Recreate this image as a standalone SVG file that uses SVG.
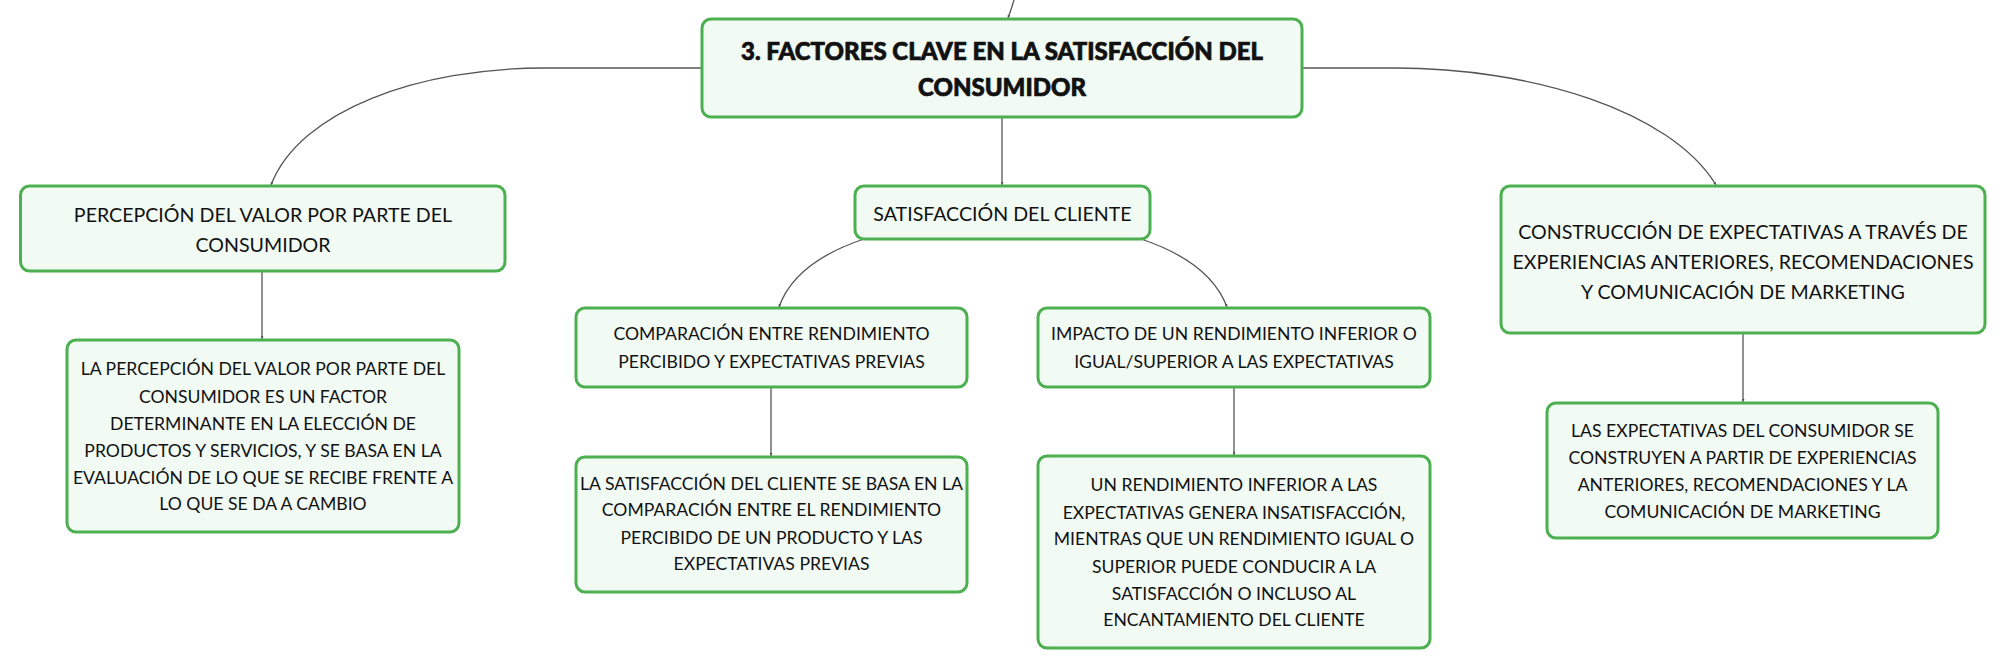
<svg xmlns="http://www.w3.org/2000/svg" width="2006" height="668" viewBox="0 0 2006 668">
<defs>
<style>
.node{fill:#f2faf4;stroke:#4caf50;stroke-width:3}
.t{font-family:Lato,"Noto Sans",sans-serif;fill:#111;text-anchor:middle;dominant-baseline:central}
.t0{font-size:24px;font-weight:900;stroke:#111;stroke-width:0.7}
.t1{font-size:19.6px}
.t2{font-size:17.6px}
.c{fill:none;stroke:#555;stroke-width:1.3}
</style>
<marker id="a" viewBox="0 0 4 4" refX="4" refY="2" markerWidth="3" markerHeight="3" orient="auto" markerUnits="userSpaceOnUse"><path d="M0,0L4,2L0,4z" fill="#555"/></marker>
</defs>
<rect width="2006" height="668" fill="#fff"/>
<g id="connectors">
<path class="c" d="M1014,0 Q1011,10 1008,18" marker-end="url(#a)"/>
<path class="c" d="M702,68 H544 C420,68 300,110 271,185" marker-end="url(#a)"/>
<path class="c" d="M1302,68 H1395 C1530,68 1670,110 1716,185" marker-end="url(#a)"/>
<path class="c" d="M1002,117 V185" marker-end="url(#a)"/>
<path class="c" d="M864,239 Q795,262 779,307" marker-end="url(#a)"/>
<path class="c" d="M1141,239 Q1210,262 1227,307" marker-end="url(#a)"/>
<path class="c" d="M262,271 V339" marker-end="url(#a)"/>
<path class="c" d="M771,387 V456" marker-end="url(#a)"/>
<path class="c" d="M1234,387 V455" marker-end="url(#a)"/>
<path class="c" d="M1743,333 V402" marker-end="url(#a)"/>
</g>
<g id="n0">
<rect class="node" x="702" y="19" width="600" height="98" rx="9"/>
<text class="t t0" x="1002" y="50">3. FACTORES CLAVE EN LA SATISFACCIÓN DEL</text>
<text class="t t0" x="1002" y="86">CONSUMIDOR</text>
</g>
<g id="n1">
<rect class="node" x="20.5" y="186" width="484.5" height="85" rx="9"/>
<text class="t t1" x="263" y="214">PERCEPCIÓN DEL VALOR POR PARTE DEL</text>
<text class="t t1" x="263" y="244">CONSUMIDOR</text>
</g>
<g id="n2">
<rect class="node" x="855" y="186" width="295" height="53" rx="9"/>
<text class="t t1" x="1002.5" y="213">SATISFACCIÓN DEL CLIENTE</text>
</g>
<g id="n3">
<rect class="node" x="1501" y="186" width="484" height="147" rx="9"/>
<text class="t t1" x="1743" y="231">CONSTRUCCIÓN DE EXPECTATIVAS A TRAVÉS DE</text>
<text class="t t1" x="1743" y="261">EXPERIENCIAS ANTERIORES, RECOMENDACIONES</text>
<text class="t t1" x="1743" y="291">Y COMUNICACIÓN DE MARKETING</text>
</g>
<g id="n4">
<rect class="node" x="67" y="340" width="392" height="192" rx="9"/>
<text class="t t2" x="263" y="368">LA PERCEPCIÓN DEL VALOR POR PARTE DEL</text>
<text class="t t2" x="263" y="396">CONSUMIDOR ES UN FACTOR</text>
<text class="t t2" x="263" y="423">DETERMINANTE EN LA ELECCIÓN DE</text>
<text class="t t2" x="263" y="450">PRODUCTOS Y SERVICIOS, Y SE BASA EN LA</text>
<text class="t t2" x="263" y="477">EVALUACIÓN DE LO QUE SE RECIBE FRENTE A</text>
<text class="t t2" x="263" y="503">LO QUE SE DA A CAMBIO</text>
</g>
<g id="n5">
<rect class="node" x="576" y="308" width="391" height="79" rx="9"/>
<text class="t t2" x="771.5" y="333">COMPARACIÓN ENTRE RENDIMIENTO</text>
<text class="t t2" x="771.5" y="361">PERCIBIDO Y EXPECTATIVAS PREVIAS</text>
</g>
<g id="n6">
<rect class="node" x="576" y="457" width="391" height="135" rx="9"/>
<text class="t t2" x="771.5" y="483">LA SATISFACCIÓN DEL CLIENTE SE BASA EN LA</text>
<text class="t t2" x="771.5" y="509">COMPARACIÓN ENTRE EL RENDIMIENTO</text>
<text class="t t2" x="771.5" y="537">PERCIBIDO DE UN PRODUCTO Y LAS</text>
<text class="t t2" x="771.5" y="563">EXPECTATIVAS PREVIAS</text>
</g>
<g id="n7">
<rect class="node" x="1038" y="308" width="392" height="79" rx="9"/>
<text class="t t2" x="1234" y="333">IMPACTO DE UN RENDIMIENTO INFERIOR O</text>
<text class="t t2" x="1234" y="361">IGUAL/SUPERIOR A LAS EXPECTATIVAS</text>
</g>
<g id="n8">
<rect class="node" x="1038" y="456" width="392" height="192" rx="9"/>
<text class="t t2" x="1234" y="484">UN RENDIMIENTO INFERIOR A LAS</text>
<text class="t t2" x="1234" y="512">EXPECTATIVAS GENERA INSATISFACCIÓN,</text>
<text class="t t2" x="1234" y="538">MIENTRAS QUE UN RENDIMIENTO IGUAL O</text>
<text class="t t2" x="1234" y="566">SUPERIOR PUEDE CONDUCIR A LA</text>
<text class="t t2" x="1234" y="593">SATISFACCIÓN O INCLUSO AL</text>
<text class="t t2" x="1234" y="619">ENCANTAMIENTO DEL CLIENTE</text>
</g>
<g id="n9">
<rect class="node" x="1547" y="403" width="391" height="135" rx="9"/>
<text class="t t2" x="1742.5" y="430">LAS EXPECTATIVAS DEL CONSUMIDOR SE</text>
<text class="t t2" x="1742.5" y="457">CONSTRUYEN A PARTIR DE EXPERIENCIAS</text>
<text class="t t2" x="1742.5" y="484">ANTERIORES, RECOMENDACIONES Y LA</text>
<text class="t t2" x="1742.5" y="511">COMUNICACIÓN DE MARKETING</text>
</g>
</svg>
